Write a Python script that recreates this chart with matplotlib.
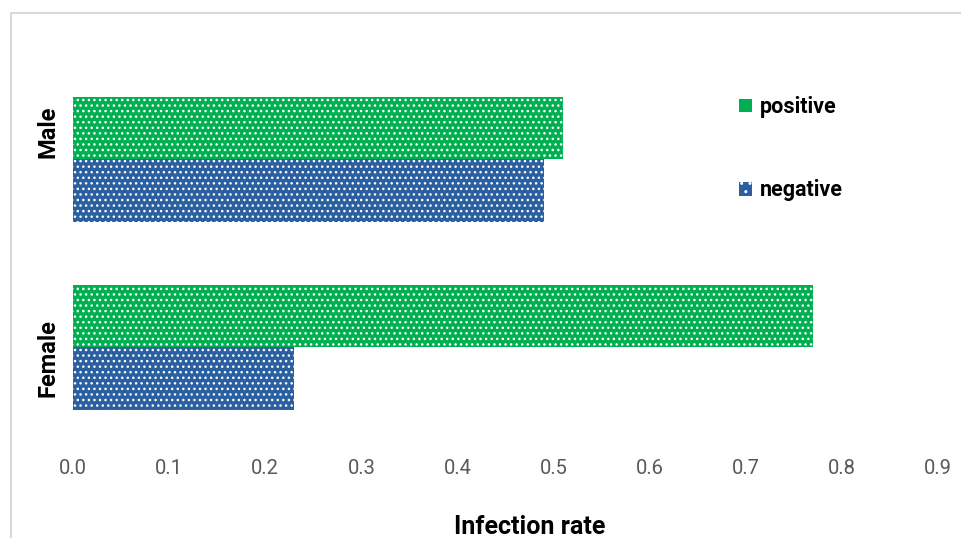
import numpy as np
import matplotlib.pyplot as plt
import matplotlib.transforms as mtransforms
from matplotlib.patches import Rectangle, Patch

plt.rcParams['font.family'] = ['Roboto', 'DejaVu Sans']
plt.rcParams['hatch.color'] = 'white'
plt.rcParams['hatch.linewidth'] = 1.0

categories = ['Female', 'Male']
positive = [0.77, 0.51]
negative = [0.23, 0.49]
xticks = [0.0, 0.1, 0.2, 0.3, 0.4, 0.5, 0.6, 0.7, 0.8, 0.9]

green = '#00B050'
blue = '#2A5FA0'

fig = plt.figure(figsize=(9.61, 5.38), dpi=100)
ax = fig.add_axes([73 / 961, 1 - 441 / 538, 865 / 961, (441 - 65.5) / 538])

y = np.arange(len(categories))
h = 1 / 3
ax.barh(y + h / 2, positive, height=h, color=green, hatch='...', edgecolor='white', linewidth=0)
ax.barh(y - h / 2, negative, height=h, color=blue, hatch='...', edgecolor='white', linewidth=0)

ax.set_xlim(0, 0.9)
ax.set_ylim(-0.5, 1.5)
ax.set_xticks(xticks)
ax.set_xticklabels([f'{v:.1f}' for v in xticks], fontsize=14.5, color='#595959')
ax.set_yticks(y)
ax.set_yticklabels(categories, rotation=90, va='center', fontsize=17, fontweight='bold')
ax.tick_params(length=0, axis='x', pad=13)
ax.tick_params(length=0, axis='y', pad=10)
# Excel puts the rotated labels a little off centre
for lab, dy in zip(ax.get_yticklabels(), [-0.11, 0.28]):
    lab.set_transform(lab.get_transform() + mtransforms.ScaledTranslation(0, dy, fig.dpi_scale_trans))
for s in ax.spines.values():
    s.set_visible(False)
ax.set_xlabel('Infection rate', fontsize=18, fontweight='bold')
ax.xaxis.set_label_coords(0.528, -0.198)

handles = [Patch(facecolor=green, edgecolor='none'),
           Patch(facecolor=blue, edgecolor='white', hatch='..', linewidth=0)]
ax.legend(handles, ['positive', 'negative'], loc='upper left', bbox_to_anchor=(0.748, 0.97),
          frameon=False, prop={'weight': 'bold', 'size': 15.5}, handlelength=0.6,
          handleheight=0.6, handletextpad=0.35, labelspacing=2.85)

fig.patches.append(Rectangle((10.5 / 961, -0.1), 1, 1.1 - 13.5 / 538, transform=fig.transFigure,
                             fill=False, edgecolor='#D9D9D9', linewidth=1.5))

fig.savefig('out.png', dpi=100)
